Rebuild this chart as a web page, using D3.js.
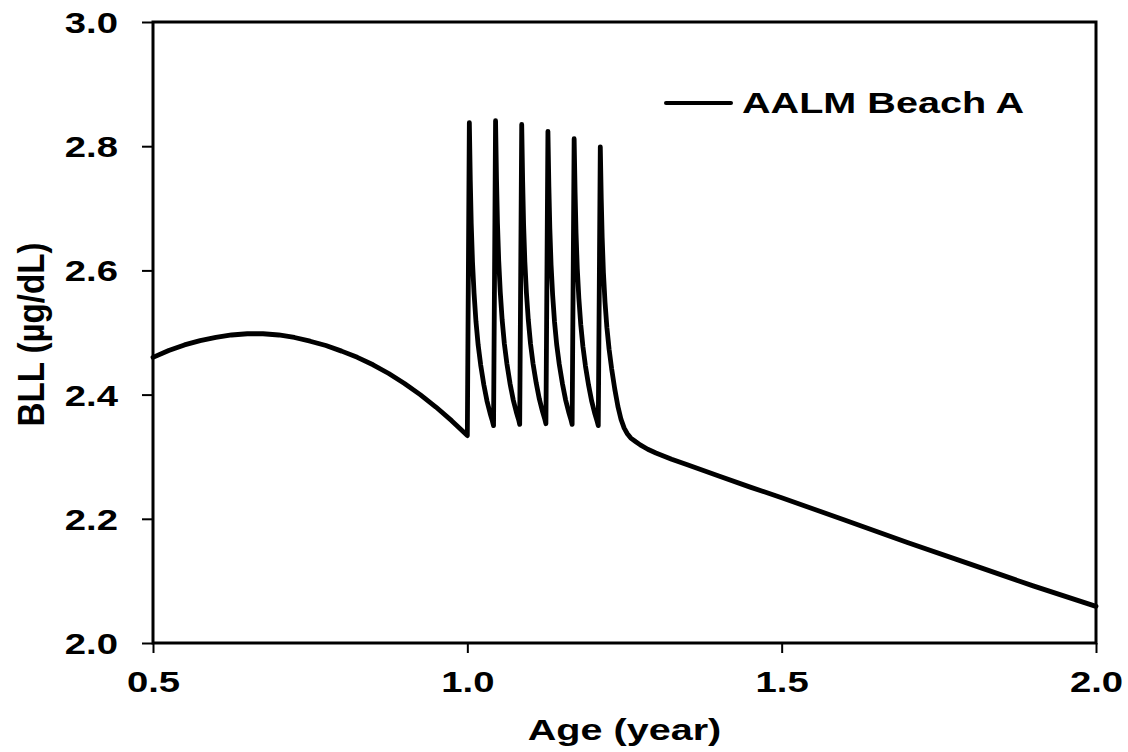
<!DOCTYPE html>
<html>
<head>
<meta charset="utf-8">
<script src="https://cdn.jsdelivr.net/npm/d3@7"></script>
<style>
  html, body { margin: 0; padding: 0; background: #fff; }
  svg text { font-family: "Liberation Sans", Arial, sans-serif; font-weight: bold; fill: #000; }
</style>
</head>
<body>
<svg id="chart" width="1128" height="752"></svg>
<script>
// Simulated blood lead level (BLL) for a child, ages 0.5 to 2 years.
const ageYears = [
  0.500, 0.525, 0.550, 0.575, 0.600, 0.625, 0.650, 0.675, 0.700, 0.725,
  0.750, 0.775, 0.800, 0.825, 0.850, 0.875, 0.900, 0.925, 0.950, 0.975, 1.000,
  // beach visit 1
  1.0032, 1.0047, 1.0062, 1.0082, 1.0107, 1.0137, 1.0172, 1.0212, 1.0262, 1.0312, 1.0362, 1.0400, 1.0417,
  // beach visit 2
  1.0449, 1.0464, 1.0479, 1.0499, 1.0524, 1.0554, 1.0589, 1.0629, 1.0679, 1.0729, 1.0779, 1.0817, 1.0833,
  // beach visit 3
  1.0865, 1.0880, 1.0895, 1.0915, 1.0940, 1.0970, 1.1005, 1.1045, 1.1095, 1.1145, 1.1195, 1.1233, 1.1250,
  // beach visit 4
  1.1282, 1.1297, 1.1312, 1.1332, 1.1357, 1.1387, 1.1422, 1.1462, 1.1512, 1.1562, 1.1612, 1.1650, 1.1667,
  // beach visit 5
  1.1699, 1.1714, 1.1729, 1.1749, 1.1774, 1.1804, 1.1839, 1.1879, 1.1929, 1.1979, 1.2029, 1.2067, 1.2083,
  // beach visit 6 and the washout afterwards
  1.2115, 1.2130, 1.2145, 1.2165, 1.2190, 1.2220, 1.2255, 1.2295, 1.2345, 1.2395, 1.2445, 1.2495, 1.2545,
  1.2600, 1.2680, 1.2750, 1.2870, 1.300, 1.325, 1.350, 1.400, 1.450, 1.500,
  1.600, 1.700, 1.800, 1.900, 2.000
];
const bllUgPerDl = [
  2.460, 2.471, 2.480, 2.487, 2.492, 2.496, 2.498, 2.498, 2.496, 2.492,
  2.486, 2.479, 2.470, 2.460, 2.448, 2.434, 2.418, 2.400, 2.380, 2.358, 2.334,
  2.838, 2.745, 2.675, 2.614, 2.563, 2.518, 2.480, 2.448, 2.416, 2.390, 2.370, 2.357, 2.350,
  2.841, 2.747, 2.677, 2.616, 2.565, 2.520, 2.482, 2.450, 2.418, 2.392, 2.372, 2.359, 2.352,
  2.835, 2.743, 2.674, 2.614, 2.564, 2.520, 2.482, 2.450, 2.419, 2.393, 2.373, 2.360, 2.353,
  2.824, 2.735, 2.668, 2.609, 2.560, 2.517, 2.480, 2.449, 2.418, 2.392, 2.372, 2.359, 2.352,
  2.812, 2.726, 2.661, 2.603, 2.555, 2.513, 2.477, 2.446, 2.415, 2.389, 2.369, 2.356, 2.350,
  2.799, 2.716, 2.653, 2.596, 2.549, 2.508, 2.473, 2.442, 2.409, 2.381, 2.360, 2.346, 2.337,
  2.330, 2.324, 2.319, 2.312, 2.306, 2.296, 2.287, 2.269, 2.251, 2.234,
  2.198, 2.162, 2.127, 2.092, 2.059
];
const seriesName = "AALM Beach A";
const xTickValues = [0.5, 1.0, 1.5, 2.0];
const yTickValues = [2.0, 2.2, 2.4, 2.6, 2.8, 3.0];
const xTitle = "Age (year)";
const yTitle = "BLL (µg/dL)";

const svg = d3.select("#chart");
const plot = { left: 153, right: 1096, top: 22, bottom: 643 };
const stretch = 1.32;   // wide bold lettering

const x = d3.scaleLinear().domain([0.5, 2.0]).range([plot.left, plot.right]);
const y = d3.scaleLinear().domain([2.0, 3.0]).range([plot.bottom, plot.top]);

// Axes: outward ticks, labels restyled below
const yAxis = svg.append("g")
  .attr("transform", `translate(${plot.left},0)`)
  .call(d3.axisLeft(y).tickValues(yTickValues).tickSize(11).tickSizeOuter(0).tickFormat(d3.format(".1f")));
const xAxis = svg.append("g")
  .attr("transform", `translate(0,${plot.bottom})`)
  .call(d3.axisBottom(x).tickValues(xTickValues).tickSize(10).tickSizeOuter(0).tickFormat(d3.format(".1f")));

[yAxis, xAxis].forEach(g => {
  g.select(".domain").remove();
  g.selectAll(".tick line").attr("stroke", "#000").attr("stroke-width", 2);
  g.attr("font-family", null).attr("font-size", null);
});

yAxis.selectAll(".tick text")
  .attr("x", 0).attr("dy", "0.36em")
  .attr("text-anchor", "end")
  .attr("font-size", 29)
  .attr("transform", `translate(-35,0) scale(${stretch},1)`);

xAxis.selectAll(".tick text")
  .attr("y", 0).attr("dy", 0)
  .attr("text-anchor", "middle")
  .attr("font-size", 29)
  .attr("transform", `translate(0,49) scale(${stretch},1)`);

// Plot frame
svg.append("rect")
  .attr("x", plot.left).attr("y", plot.top)
  .attr("width", plot.right - plot.left).attr("height", plot.bottom - plot.top)
  .attr("fill", "none").attr("stroke", "#000").attr("stroke-width", 3);

// BLL curve
const points = ageYears.map((a, i) => [a, bllUgPerDl[i]]);
const line = d3.line()
  .x(d => x(d[0])).y(d => y(d[1]))
  .curve(d3.curveLinear);

svg.append("path")
  .datum(points)
  .attr("d", line)
  .attr("fill", "none")
  .attr("stroke", "#000")
  .attr("stroke-width", 4.8)
  .attr("stroke-linejoin", "round")
  .attr("stroke-linecap", "round");

// Axis titles
svg.append("text")
  .attr("text-anchor", "middle")
  .attr("font-size", 30)
  .attr("transform", `translate(${(plot.left + plot.right) / 2},740) scale(${stretch},1)`)
  .text(xTitle);

svg.append("text")
  .attr("text-anchor", "middle")
  .attr("font-size", 30)
  .attr("textLength", 184)
  .attr("lengthAdjust", "spacingAndGlyphs")
  .attr("transform", `translate(44,${(plot.top + plot.bottom) / 2 + 2}) scale(1.25,1) rotate(-90)`)
  .text(yTitle);

// Legend
const legend = svg.append("g");
legend.append("line")
  .attr("x1", 666).attr("x2", 731).attr("y1", 103).attr("y2", 103)
  .attr("stroke", "#000").attr("stroke-width", 4).attr("stroke-linecap", "round");
legend.append("text")
  .attr("font-size", 30)
  .attr("transform", `translate(742,113) scale(${stretch},1)`)
  .text(seriesName);
</script>
</body>
</html>
